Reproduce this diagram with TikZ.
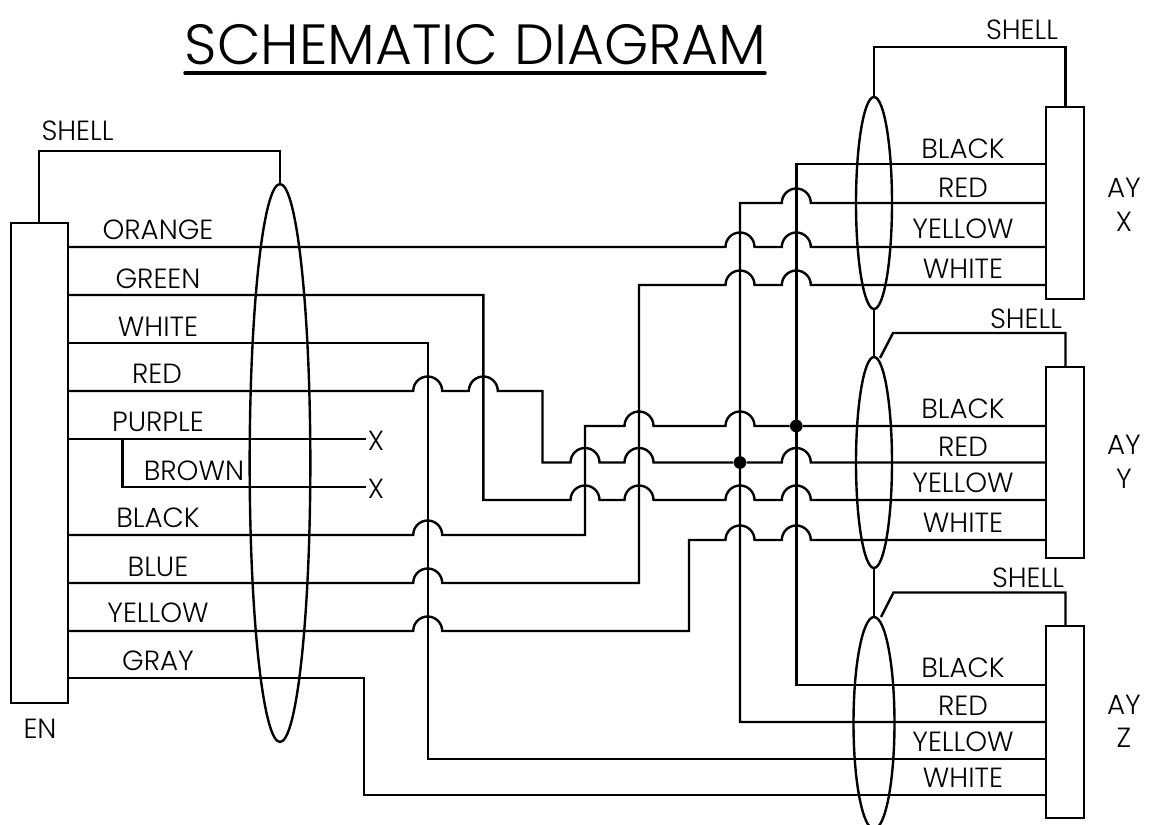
\documentclass[tikz,border=0pt]{standalone}
\usepackage{fontspec}
\setmainfont{Poppins}[UprightFont=* Light]
\usetikzlibrary{shapes.geometric}
\newcommand\hop[2]{-- ({#1-14.5},#2) arc[start angle=180,end angle=360,radius=14.5]}
\tikzset{
  x=0.75pt,y=-0.75pt,
  wire/.style={line width=1.8pt,black,line join=miter},
  conn/.style={draw,line width=1.8pt,fill=white,inner sep=0pt,outer sep=0pt,minimum width=#1},
  shield/.style={draw,ellipse,line width=1.8pt,inner sep=0pt,outer sep=0pt},
  lbl/.style={font=\fontsize{20.8pt}{24pt}\selectfont,inner sep=0pt,text=black},
  dot/.style={circle,fill=black,inner sep=0pt,minimum size=9.5pt}
}
\begin{document}
\begin{tikzpicture}
\useasboundingbox (0,0) rectangle (1161,825);
\fill[white] (0,0) rectangle (1161,825);
% connectors
\node[conn=42.75pt,minimum height=360pt,anchor=north west] (en) at (11,223) {};
\node[conn=28.5pt,minimum height=144pt,anchor=north west] (ax) at (1046,107) {};
\node[conn=28.5pt,minimum height=143.25pt,anchor=north west] (ay) at (1046,367) {};
\node[conn=28.5pt,minimum height=144pt,anchor=north west] (az) at (1046,626) {};
% shields
\node[shield,minimum width=45.5pt,minimum height=418.5pt] (s0) at (280,463) {};
\node[shield,minimum width=27pt,minimum height=159pt] (sx) at (874,203) {};
\node[shield,minimum width=27pt,minimum height=158.25pt] (sy) at (874,462.5) {};
\node[shield,minimum width=30.75pt,minimum height=159pt] (sz) at (874,723) {};
% end points
\coordinate (p1) at (68,247); \coordinate (p2) at (68,295); \coordinate (p3) at (68,343);
\coordinate (p4) at (68,391); \coordinate (p5) at (68,439); \coordinate (p7) at (68,535);
\coordinate (p8) at (68,583); \coordinate (p9) at (68,631); \coordinate (p10) at (68,678);
\coordinate (x1) at (1046,164); \coordinate (x2) at (1046,203); \coordinate (x3) at (1046,247); \coordinate (x4) at (1046,285);
\coordinate (y1) at (1046,426); \coordinate (y2) at (1046,462.5); \coordinate (y3) at (1046,500); \coordinate (y4) at (1046,540);
\coordinate (z1) at (1046,685); \coordinate (z2) at (1046,722); \coordinate (z3) at (1046,759); \coordinate (z4) at (1046,795);
\coordinate (n1) at (366,439); \coordinate (n2) at (366,487);
\node[dot] (j1) at (796.3,426) {};
\node[dot] (j2) at (740,462.5) {};
% wires
\draw[wire] (39,223) |- (280,151) -- (s0.north);
\draw[wire] (sx.north) |- (1065.5,47) -- (1065.5,107);
\draw[wire] (sx.south) -- (sy.north);
\draw[wire] (sy.south) -- (sz.north);
\draw[wire] (880,358) -- (893,333) -| (1065.5,367);
\draw[wire] (881,617) -- (893.5,592.5) -| (1065.5,626);
\draw[wire] (p1) \hop{740}{247} \hop{796.3}{247} -- (x3);
\draw[wire] (p2) -| (483.3,500) \hop{585}{500} \hop{639}{500} \hop{740}{500} \hop{796.3}{500} -- (y3);
\draw[wire] (p3) -| (427.7,759) -- (z3);
\draw[wire] (p4) \hop{427.7}{391} \hop{483.3}{391} -| (542.5,462.5) \hop{585}{462.5} \hop{639}{462.5} -- (j2) \hop{796.3}{462.5} -- (y2);
\draw[wire] (p5) -- (n1);
\draw[wire] (122.5,439) |- (n2);
\draw[wire] (p7) \hop{427.7}{535} -| (585,426) \hop{639}{426} \hop{740}{426} -- (j1) -- (y1);
\draw[wire] (p8) \hop{427.7}{583} -| (639,285) \hop{740}{285} \hop{796.3}{285} -- (x4);
\draw[wire] (p9) \hop{427.7}{631} -| (689,540) \hop{740}{540} \hop{796.3}{540} -- (y4);
\draw[wire] (p10) -| (364,795) -- (z4);
\draw[wire] (z2) -| (740,203) \hop{796.3}{203} -- (x2);
\draw[wire] (x1) -| (796.3,685) -- (z1);
% title
\node[font=\fontsize{42.5pt}{48pt}\selectfont,inner sep=0pt,text=black] (title) at (475.5,45) {SCHEMATIC DIAGRAM};
\draw[line width=2.6pt,line cap=round] (185,73) -- (765,73);
% labels
\node[lbl] (l1) at (77.5,131) {SHELL};
\node[lbl] (l2) at (158,230) {ORANGE};
\node[lbl] (l3) at (158,279) {GREEN};
\node[lbl] (l4) at (158,327) {WHITE};
\node[lbl] (l5) at (157,374) {RED};
\node[lbl] (l6) at (158,422) {PURPLE};
\node[lbl] (l7) at (194,471) {BROWN};
\node[lbl] (l8) at (158,518) {BLACK};
\node[lbl] (l9) at (158,567) {BLUE};
\node[lbl] (l10) at (158,613) {YELLOW};
\node[lbl] (l11) at (158,661) {GRAY};
\node[lbl] (l12) at (40,729) {EN};
\node[lbl] (l13) at (376,441) {X};
\node[lbl] (l14) at (376,489) {X};
\node[lbl] (a1) at (1022,30) {SHELL};
\node[lbl] (a2) at (963,149) {BLACK};
\node[lbl] (a3) at (963,188) {RED};
\node[lbl] (a4) at (963,229) {YELLOW};
\node[lbl] (a5) at (963,269) {WHITE};
\node[lbl] (a6) at (1124,188) {AY};
\node[lbl] (a7) at (1124,222) {X};
\node[lbl] (b1) at (1026,319) {SHELL};
\node[lbl] (b2) at (963,409) {BLACK};
\node[lbl] (b3) at (963,447) {RED};
\node[lbl] (b4) at (963,483) {YELLOW};
\node[lbl] (b5) at (963,523) {WHITE};
\node[lbl] (b6) at (1124,445) {AY};
\node[lbl] (b7) at (1124,479) {Y};
\node[lbl] (c1) at (1028,578) {SHELL};
\node[lbl] (c2) at (963,668) {BLACK};
\node[lbl] (c3) at (963,706) {RED};
\node[lbl] (c4) at (963,742) {YELLOW};
\node[lbl] (c5) at (963,778) {WHITE};
\node[lbl] (c6) at (1124,705) {AY};
\node[lbl] (c7) at (1124,738) {Z};
\end{tikzpicture}
\end{document}
